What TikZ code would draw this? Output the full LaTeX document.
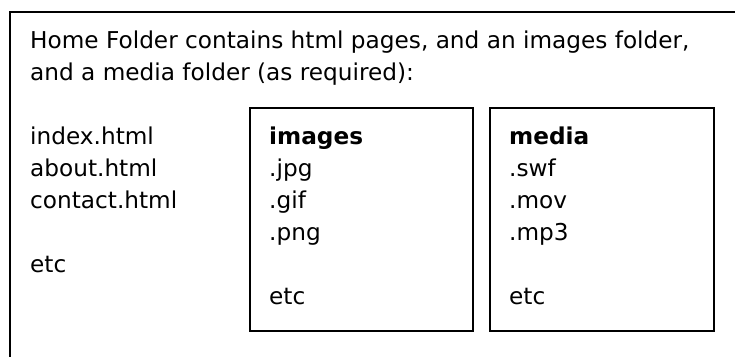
\documentclass[tikz,border=0pt]{standalone}
\usepackage{fontspec}
\setmainfont{DejaVu Sans}
\begin{document}
\begin{tikzpicture}[x=1pt, y=-1pt,
    folder/.style = {rectangle, draw, line width=2pt, minimum width=223.5pt, minimum height=223.5pt, anchor=north west},
    listing/.style = {align=left, anchor=base west, inner sep=0pt},
    font=\fontsize{23.2}{32}\selectfont]
  \useasboundingbox (0, 0) rectangle (735, 356);
  \clip (0, 0) rectangle (735, 356);

  % Folders.
  \node at (8.5, 11) [folder, minimum width=745pt, minimum height=360pt, name=HomeFolder] {};
  \node at (248.5, 106.5) [folder, name=Images] {};
  \node at (489, 106.5) [folder, name=Media] {};

  % Contents (placed by the baseline of their last line).
  \node at (30, 80) [listing, name=Intro] {Home Folder contains html pages, and an images folder,\\and a media folder (as required):};
  \node at (30, 272) [listing, name=HtmlPages] {index.html\\about.html\\contact.html\\[32pt]etc};
  \node at (269, 304) [listing, name=ImageFiles] {\textbf{images}\\.jpg\\.gif\\.png\\[32pt]etc};
  \node at (509, 304) [listing, name=MediaFiles] {\textbf{media}\\.swf\\.mov\\.mp3\\[32pt]etc};
\end{tikzpicture}
\end{document}
